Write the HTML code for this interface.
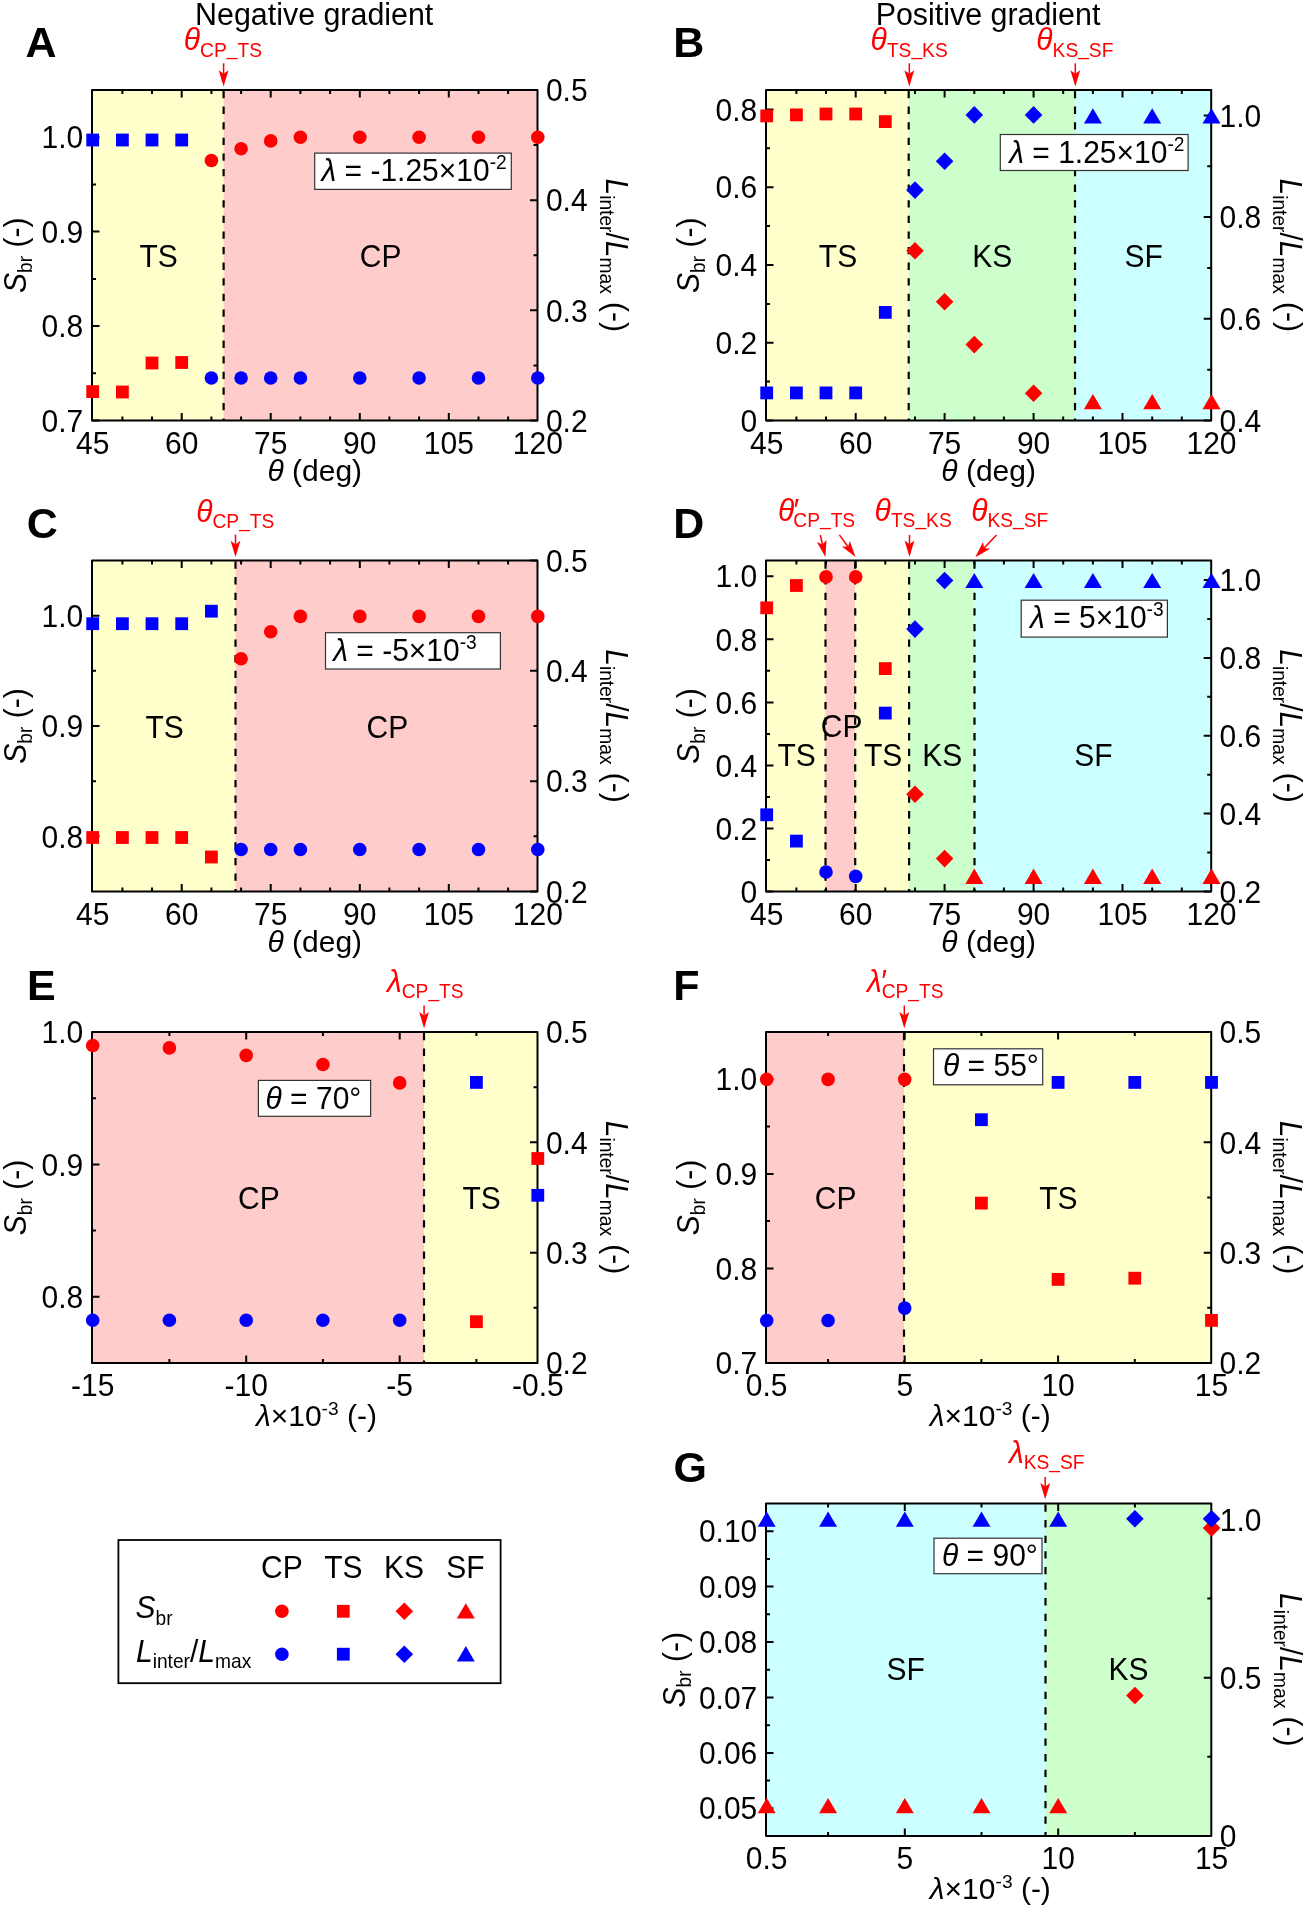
<!DOCTYPE html><html><head><meta charset="utf-8"><style>html,body{margin:0;padding:0;background:#fff;}svg{display:block;will-change:transform;}</style></head><body>
<svg width="1304" height="1909" viewBox="0 0 1304 1909" font-family='"Liberation Sans", sans-serif'>
<rect x="92.0" y="90" width="131.6" height="330.5" fill="#FFFFCC"/>
<rect x="223.6" y="90" width="313.9" height="330.5" fill="#FFCCCC"/>
<line x1="223.6" y1="91" x2="223.6" y2="420.5" stroke="#000" stroke-width="2.2" stroke-dasharray="7.3 8.3"/>
<path d="M181.7 420.5v-7.5M181.7 90v7.5M270.7 420.5v-7.5M270.7 90v7.5M359.8 420.5v-7.5M359.8 90v7.5M448.8 420.5v-7.5M448.8 90v7.5M122.4 420.5v-4M122.4 90v4M152.0 420.5v-4M152.0 90v4M211.4 420.5v-4M211.4 90v4M241.1 420.5v-4M241.1 90v4M300.4 420.5v-4M300.4 90v4M330.1 420.5v-4M330.1 90v4M389.4 420.5v-4M389.4 90v4M419.1 420.5v-4M419.1 90v4M478.5 420.5v-4M478.5 90v4M508.1 420.5v-4M508.1 90v4M92 420.5h7.5M92 326.1h7.5M92 231.6h7.5M92 137.2h7.5M92 373.3h4M92 278.9h4M92 184.4h4M537.5 420.5h-7.5M537.5 310.3h-7.5M537.5 200.2h-7.5M537.5 90.0h-7.5M537.5 365.4h-4M537.5 255.3h-4M537.5 145.1h-4" stroke="#000" stroke-width="2" fill="none"/>
<rect x="92" y="90" width="445.5" height="330.5" fill="none" stroke="#000" stroke-width="2" stroke-linejoin="round"/>
<text transform="translate(92.70,453.60) scale(1,1.04)" font-size="30" text-anchor="middle" fill="#000"><tspan>45</tspan></text>
<text transform="translate(181.72,453.60) scale(1,1.04)" font-size="30" text-anchor="middle" fill="#000"><tspan>60</tspan></text>
<text transform="translate(270.74,453.60) scale(1,1.04)" font-size="30" text-anchor="middle" fill="#000"><tspan>75</tspan></text>
<text transform="translate(359.76,453.60) scale(1,1.04)" font-size="30" text-anchor="middle" fill="#000"><tspan>90</tspan></text>
<text transform="translate(448.78,453.60) scale(1,1.04)" font-size="30" text-anchor="middle" fill="#000"><tspan>105</tspan></text>
<text transform="translate(537.80,453.60) scale(1,1.04)" font-size="30" text-anchor="middle" fill="#000"><tspan>120</tspan></text>
<text transform="translate(83.30,431.70) scale(1,1.04)" font-size="30" text-anchor="end" fill="#000"><tspan>0.7</tspan></text>
<text transform="translate(83.30,337.27) scale(1,1.04)" font-size="30" text-anchor="end" fill="#000"><tspan>0.8</tspan></text>
<text transform="translate(83.30,242.84) scale(1,1.04)" font-size="30" text-anchor="end" fill="#000"><tspan>0.9</tspan></text>
<text transform="translate(83.30,148.41) scale(1,1.04)" font-size="30" text-anchor="end" fill="#000"><tspan>1.0</tspan></text>
<text transform="translate(545.90,431.70) scale(1,1.04)" font-size="30" text-anchor="start" fill="#000"><tspan>0.2</tspan></text>
<text transform="translate(545.90,321.53) scale(1,1.04)" font-size="30" text-anchor="start" fill="#000"><tspan>0.3</tspan></text>
<text transform="translate(545.90,211.37) scale(1,1.04)" font-size="30" text-anchor="start" fill="#000"><tspan>0.4</tspan></text>
<text transform="translate(545.90,101.20) scale(1,1.04)" font-size="30" text-anchor="start" fill="#000"><tspan>0.5</tspan></text>
<text transform="translate(158.60,266.50) scale(1,1.04)" font-size="30" text-anchor="middle" fill="#000"><tspan>TS</tspan></text>
<text transform="translate(380.60,266.50) scale(1,1.04)" font-size="30" text-anchor="middle" fill="#000"><tspan>CP</tspan></text>
<rect x="86.3" y="133.6" width="12.8" height="12.8" fill="#0000FF"/>
<rect x="116.0" y="133.6" width="12.8" height="12.8" fill="#0000FF"/>
<rect x="145.6" y="133.6" width="12.8" height="12.8" fill="#0000FF"/>
<rect x="175.3" y="133.6" width="12.8" height="12.8" fill="#0000FF"/>
<rect x="86.3" y="385.2" width="12.8" height="12.8" fill="#FF0000"/>
<rect x="116.0" y="385.6" width="12.8" height="12.8" fill="#FF0000"/>
<rect x="145.6" y="356.6" width="12.8" height="12.8" fill="#FF0000"/>
<rect x="175.3" y="356.1" width="12.8" height="12.8" fill="#FF0000"/>
<circle cx="211.4" cy="160.5" r="6.80" fill="#FF0000"/>
<circle cx="241.1" cy="148.7" r="6.80" fill="#FF0000"/>
<circle cx="270.7" cy="140.9" r="6.80" fill="#FF0000"/>
<circle cx="300.4" cy="137.2" r="6.80" fill="#FF0000"/>
<circle cx="359.8" cy="137.2" r="6.80" fill="#FF0000"/>
<circle cx="419.1" cy="137.2" r="6.80" fill="#FF0000"/>
<circle cx="478.5" cy="137.2" r="6.80" fill="#FF0000"/>
<circle cx="537.8" cy="137.2" r="6.80" fill="#FF0000"/>
<circle cx="211.4" cy="378.0" r="6.80" fill="#0000FF"/>
<circle cx="241.1" cy="378.0" r="6.80" fill="#0000FF"/>
<circle cx="270.7" cy="378.0" r="6.80" fill="#0000FF"/>
<circle cx="300.4" cy="378.0" r="6.80" fill="#0000FF"/>
<circle cx="359.8" cy="378.0" r="6.80" fill="#0000FF"/>
<circle cx="419.1" cy="378.0" r="6.80" fill="#0000FF"/>
<circle cx="478.5" cy="378.0" r="6.80" fill="#0000FF"/>
<circle cx="537.8" cy="378.0" r="6.80" fill="#0000FF"/>
<text transform="translate(314.75,481.10) scale(1,0.98)" font-size="30" text-anchor="middle" fill="#000"><tspan font-style="italic">θ</tspan><tspan> (deg)</tspan></text>
<text transform="translate(25.50,255.25) rotate(-90) scale(1,1.04)" font-size="30" text-anchor="middle" fill="#000"><tspan font-style="italic">S</tspan><tspan font-size="19.2" dy="6.00">br</tspan><tspan dy="-6.00"> (-)</tspan></text>
<text transform="translate(606.00,255.25) rotate(90) scale(1,1.04)" font-size="30" text-anchor="middle" fill="#000"><tspan font-style="italic">L</tspan><tspan font-size="19.2" dy="6.00">inter</tspan><tspan dy="-6.00">/</tspan><tspan font-style="italic">L</tspan><tspan font-size="19.2" dy="6.00">max</tspan><tspan dy="-6.00"> (-)</tspan></text>
<rect x="314.7" y="153.1" width="196.6" height="36.3" fill="#fff" stroke="#333" stroke-width="1.2"/>
<text transform="translate(321.50,180.70) scale(1,1.04)" font-size="30" text-anchor="start" fill="#000"><tspan font-style="italic">λ</tspan><tspan> = -1.25×10</tspan><tspan font-size="19.2" dy="-11.50">-2</tspan></text>
<line x1="223.6" y1="63.3" x2="223.6" y2="73.8" stroke="#FF0000" stroke-width="1.5"/>
<path d="M223.6 86.5L218.7 70.2L223.6 73.8L228.5 70.2Z" fill="#FF0000"/>
<text transform="translate(183.80,50.30) scale(1,1.04)" font-size="30" text-anchor="start" fill="#FF0000"><tspan font-style="italic">θ</tspan><tspan font-size="19.2" dy="6.00">CP</tspan><tspan font-size="19.2" dy="-1.30">_</tspan><tspan font-size="19.2" dy="1.30">TS</tspan></text>
<text transform="translate(314.20,24.50) scale(1,1.04)" font-size="30.4" text-anchor="middle" fill="#000"><tspan>Negative gradient</tspan></text>
<text transform="translate(25.60,56.80) scale(1,1.01)" font-size="43" text-anchor="start" fill="#000" font-weight="bold"><tspan>A</tspan></text>
<rect x="766.0" y="90" width="142.7" height="330.5" fill="#FFFFCC"/>
<rect x="908.7" y="90" width="166.3" height="330.5" fill="#CCFFCC"/>
<rect x="1075.0" y="90" width="136.2" height="330.5" fill="#CCFFFF"/>
<line x1="908.7" y1="91" x2="908.7" y2="420.5" stroke="#000" stroke-width="2.2" stroke-dasharray="7.3 8.3"/>
<line x1="1075" y1="91" x2="1075" y2="420.5" stroke="#000" stroke-width="2.2" stroke-dasharray="7.3 8.3"/>
<path d="M855.7 420.5v-7.5M855.7 90v7.5M944.6 420.5v-7.5M944.6 90v7.5M1033.6 420.5v-7.5M1033.6 90v7.5M1122.5 420.5v-7.5M1122.5 90v7.5M796.4 420.5v-4M796.4 90v4M826.0 420.5v-4M826.0 90v4M885.3 420.5v-4M885.3 90v4M915.0 420.5v-4M915.0 90v4M974.3 420.5v-4M974.3 90v4M1003.9 420.5v-4M1003.9 90v4M1063.2 420.5v-4M1063.2 90v4M1092.9 420.5v-4M1092.9 90v4M1152.2 420.5v-4M1152.2 90v4M1181.8 420.5v-4M1181.8 90v4M766 420.5h7.5M766 342.7h7.5M766 265.0h7.5M766 187.2h7.5M766 109.4h7.5M766 381.6h4M766 303.9h4M766 226.1h4M766 148.3h4M1211.2 420.5h-7.5M1211.2 318.8h-7.5M1211.2 217.1h-7.5M1211.2 115.4h-7.5M1211.2 369.7h-4M1211.2 268.0h-4M1211.2 166.3h-4" stroke="#000" stroke-width="2" fill="none"/>
<rect x="766" y="90" width="445.20000000000005" height="330.5" fill="none" stroke="#000" stroke-width="2" stroke-linejoin="round"/>
<text transform="translate(766.70,453.60) scale(1,1.04)" font-size="30" text-anchor="middle" fill="#000"><tspan>45</tspan></text>
<text transform="translate(855.66,453.60) scale(1,1.04)" font-size="30" text-anchor="middle" fill="#000"><tspan>60</tspan></text>
<text transform="translate(944.62,453.60) scale(1,1.04)" font-size="30" text-anchor="middle" fill="#000"><tspan>75</tspan></text>
<text transform="translate(1033.58,453.60) scale(1,1.04)" font-size="30" text-anchor="middle" fill="#000"><tspan>90</tspan></text>
<text transform="translate(1122.54,453.60) scale(1,1.04)" font-size="30" text-anchor="middle" fill="#000"><tspan>105</tspan></text>
<text transform="translate(1211.50,453.60) scale(1,1.04)" font-size="30" text-anchor="middle" fill="#000"><tspan>120</tspan></text>
<text transform="translate(757.30,431.70) scale(1,1.04)" font-size="30" text-anchor="end" fill="#000"><tspan>0</tspan></text>
<text transform="translate(757.30,353.94) scale(1,1.04)" font-size="30" text-anchor="end" fill="#000"><tspan>0.2</tspan></text>
<text transform="translate(757.30,276.17) scale(1,1.04)" font-size="30" text-anchor="end" fill="#000"><tspan>0.4</tspan></text>
<text transform="translate(757.30,198.41) scale(1,1.04)" font-size="30" text-anchor="end" fill="#000"><tspan>0.6</tspan></text>
<text transform="translate(757.30,120.64) scale(1,1.04)" font-size="30" text-anchor="end" fill="#000"><tspan>0.8</tspan></text>
<text transform="translate(1219.60,431.70) scale(1,1.04)" font-size="30" text-anchor="start" fill="#000"><tspan>0.4</tspan></text>
<text transform="translate(1219.60,330.01) scale(1,1.04)" font-size="30" text-anchor="start" fill="#000"><tspan>0.6</tspan></text>
<text transform="translate(1219.60,228.32) scale(1,1.04)" font-size="30" text-anchor="start" fill="#000"><tspan>0.8</tspan></text>
<text transform="translate(1219.60,126.62) scale(1,1.04)" font-size="30" text-anchor="start" fill="#000"><tspan>1.0</tspan></text>
<text transform="translate(838.00,266.50) scale(1,1.04)" font-size="30" text-anchor="middle" fill="#000"><tspan>TS</tspan></text>
<text transform="translate(992.20,266.50) scale(1,1.04)" font-size="30" text-anchor="middle" fill="#000"><tspan>KS</tspan></text>
<text transform="translate(1143.70,266.50) scale(1,1.04)" font-size="30" text-anchor="middle" fill="#000"><tspan>SF</tspan></text>
<rect x="760.3" y="109.5" width="12.8" height="12.8" fill="#FF0000"/>
<rect x="790.0" y="108.5" width="12.8" height="12.8" fill="#FF0000"/>
<rect x="819.6" y="107.6" width="12.8" height="12.8" fill="#FF0000"/>
<rect x="849.3" y="107.6" width="12.8" height="12.8" fill="#FF0000"/>
<rect x="878.9" y="115.2" width="12.8" height="12.8" fill="#FF0000"/>
<rect x="760.3" y="386.5" width="12.8" height="12.8" fill="#0000FF"/>
<rect x="790.0" y="386.5" width="12.8" height="12.8" fill="#0000FF"/>
<rect x="819.6" y="386.5" width="12.8" height="12.8" fill="#0000FF"/>
<rect x="849.3" y="386.5" width="12.8" height="12.8" fill="#0000FF"/>
<rect x="878.9" y="306.0" width="12.8" height="12.8" fill="#0000FF"/>
<path d="M915.0 181.3L923.8 190.1L915.0 198.9L906.2 190.1Z" fill="#0000FF"/>
<path d="M944.6 152.5L953.4 161.3L944.6 170.1L935.8 161.3Z" fill="#0000FF"/>
<path d="M974.3 106.1L983.1 114.9L974.3 123.7L965.5 114.9Z" fill="#0000FF"/>
<path d="M1033.6 106.1L1042.4 114.9L1033.6 123.7L1024.8 114.9Z" fill="#0000FF"/>
<path d="M915.0 241.9L923.8 250.7L915.0 259.5L906.2 250.7Z" fill="#FF0000"/>
<path d="M944.6 293.0L953.4 301.8L944.6 310.6L935.8 301.8Z" fill="#FF0000"/>
<path d="M974.3 335.8L983.1 344.6L974.3 353.4L965.5 344.6Z" fill="#FF0000"/>
<path d="M1033.6 384.5L1042.4 393.3L1033.6 402.1L1024.8 393.3Z" fill="#FF0000"/>
<path d="M1092.9 108.2L1101.9 123.5L1083.9 123.5Z" fill="#0000FF"/>
<path d="M1152.2 108.2L1161.2 123.5L1143.2 123.5Z" fill="#0000FF"/>
<path d="M1211.5 108.2L1220.5 123.5L1202.5 123.5Z" fill="#0000FF"/>
<path d="M1092.9 393.9L1101.9 409.2L1083.9 409.2Z" fill="#FF0000"/>
<path d="M1152.2 393.9L1161.2 409.2L1143.2 409.2Z" fill="#FF0000"/>
<path d="M1211.5 393.9L1220.5 409.2L1202.5 409.2Z" fill="#FF0000"/>
<text transform="translate(988.60,481.10) scale(1,0.98)" font-size="30" text-anchor="middle" fill="#000"><tspan font-style="italic">θ</tspan><tspan> (deg)</tspan></text>
<text transform="translate(699.00,255.25) rotate(-90) scale(1,1.04)" font-size="30" text-anchor="middle" fill="#000"><tspan font-style="italic">S</tspan><tspan font-size="19.2" dy="6.00">br</tspan><tspan dy="-6.00"> (-)</tspan></text>
<text transform="translate(1279.70,255.25) rotate(90) scale(1,1.04)" font-size="30" text-anchor="middle" fill="#000"><tspan font-style="italic">L</tspan><tspan font-size="19.2" dy="6.00">inter</tspan><tspan dy="-6.00">/</tspan><tspan font-style="italic">L</tspan><tspan font-size="19.2" dy="6.00">max</tspan><tspan dy="-6.00"> (-)</tspan></text>
<rect x="1000.3" y="134.5" width="187.8" height="36.0" fill="#fff" stroke="#333" stroke-width="1.2"/>
<text transform="translate(1009.20,162.90) scale(1,1.04)" font-size="30" text-anchor="start" fill="#000"><tspan font-style="italic">λ</tspan><tspan> = 1.25×10</tspan><tspan font-size="19.2" dy="-11.50">-2</tspan></text>
<line x1="909.3" y1="63.3" x2="909.3" y2="73.8" stroke="#FF0000" stroke-width="1.5"/>
<path d="M909.3 86.5L904.4 70.2L909.3 73.8L914.2 70.2Z" fill="#FF0000"/>
<line x1="1075.3" y1="63.3" x2="1075.3" y2="73.8" stroke="#FF0000" stroke-width="1.5"/>
<path d="M1075.3 86.5L1070.4 70.2L1075.3 73.8L1080.2 70.2Z" fill="#FF0000"/>
<text transform="translate(870.60,50.30) scale(1,1.04)" font-size="30" text-anchor="start" fill="#FF0000"><tspan font-style="italic">θ</tspan><tspan font-size="19.2" dy="6.00">TS</tspan><tspan font-size="19.2" dy="-1.30">_</tspan><tspan font-size="19.2" dy="1.30">KS</tspan></text>
<text transform="translate(1036.30,50.30) scale(1,1.04)" font-size="30" text-anchor="start" fill="#FF0000"><tspan font-style="italic">θ</tspan><tspan font-size="19.2" dy="6.00">KS</tspan><tspan font-size="19.2" dy="-1.30">_</tspan><tspan font-size="19.2" dy="1.30">SF</tspan></text>
<text transform="translate(988.00,24.50) scale(1,1.04)" font-size="30.4" text-anchor="middle" fill="#000"><tspan>Positive gradient</tspan></text>
<text transform="translate(673.30,56.80) scale(1,1.01)" font-size="43" text-anchor="start" fill="#000" font-weight="bold"><tspan>B</tspan></text>
<rect x="92.0" y="560.5" width="143.5" height="331.0" fill="#FFFFCC"/>
<rect x="235.5" y="560.5" width="302.0" height="331.0" fill="#FFCCCC"/>
<line x1="235.5" y1="561.5" x2="235.5" y2="891.5" stroke="#000" stroke-width="2.2" stroke-dasharray="7.3 8.3"/>
<path d="M181.7 891.5v-7.5M181.7 560.5v7.5M270.7 891.5v-7.5M270.7 560.5v7.5M359.8 891.5v-7.5M359.8 560.5v7.5M448.8 891.5v-7.5M448.8 560.5v7.5M122.4 891.5v-4M122.4 560.5v4M152.0 891.5v-4M152.0 560.5v4M211.4 891.5v-4M211.4 560.5v4M241.1 891.5v-4M241.1 560.5v4M300.4 891.5v-4M300.4 560.5v4M330.1 891.5v-4M330.1 560.5v4M389.4 891.5v-4M389.4 560.5v4M419.1 891.5v-4M419.1 560.5v4M478.5 891.5v-4M478.5 560.5v4M508.1 891.5v-4M508.1 560.5v4M92 836.3h7.5M92 726.0h7.5M92 615.7h7.5M92 781.2h4M92 670.8h4M537.5 891.5h-7.5M537.5 781.2h-7.5M537.5 670.8h-7.5M537.5 560.5h-7.5M537.5 836.3h-4M537.5 726.0h-4M537.5 615.7h-4" stroke="#000" stroke-width="2" fill="none"/>
<rect x="92" y="560.5" width="445.5" height="331.0" fill="none" stroke="#000" stroke-width="2" stroke-linejoin="round"/>
<text transform="translate(92.70,924.60) scale(1,1.04)" font-size="30" text-anchor="middle" fill="#000"><tspan>45</tspan></text>
<text transform="translate(181.72,924.60) scale(1,1.04)" font-size="30" text-anchor="middle" fill="#000"><tspan>60</tspan></text>
<text transform="translate(270.74,924.60) scale(1,1.04)" font-size="30" text-anchor="middle" fill="#000"><tspan>75</tspan></text>
<text transform="translate(359.76,924.60) scale(1,1.04)" font-size="30" text-anchor="middle" fill="#000"><tspan>90</tspan></text>
<text transform="translate(448.78,924.60) scale(1,1.04)" font-size="30" text-anchor="middle" fill="#000"><tspan>105</tspan></text>
<text transform="translate(537.80,924.60) scale(1,1.04)" font-size="30" text-anchor="middle" fill="#000"><tspan>120</tspan></text>
<text transform="translate(83.30,847.53) scale(1,1.04)" font-size="30" text-anchor="end" fill="#000"><tspan>0.8</tspan></text>
<text transform="translate(83.30,737.20) scale(1,1.04)" font-size="30" text-anchor="end" fill="#000"><tspan>0.9</tspan></text>
<text transform="translate(83.30,626.87) scale(1,1.04)" font-size="30" text-anchor="end" fill="#000"><tspan>1.0</tspan></text>
<text transform="translate(545.90,902.70) scale(1,1.04)" font-size="30" text-anchor="start" fill="#000"><tspan>0.2</tspan></text>
<text transform="translate(545.90,792.37) scale(1,1.04)" font-size="30" text-anchor="start" fill="#000"><tspan>0.3</tspan></text>
<text transform="translate(545.90,682.03) scale(1,1.04)" font-size="30" text-anchor="start" fill="#000"><tspan>0.4</tspan></text>
<text transform="translate(545.90,571.70) scale(1,1.04)" font-size="30" text-anchor="start" fill="#000"><tspan>0.5</tspan></text>
<text transform="translate(164.60,737.90) scale(1,1.04)" font-size="30" text-anchor="middle" fill="#000"><tspan>TS</tspan></text>
<text transform="translate(387.30,737.90) scale(1,1.04)" font-size="30" text-anchor="middle" fill="#000"><tspan>CP</tspan></text>
<rect x="86.3" y="617.3" width="12.8" height="12.8" fill="#0000FF"/>
<rect x="116.0" y="617.3" width="12.8" height="12.8" fill="#0000FF"/>
<rect x="145.6" y="617.3" width="12.8" height="12.8" fill="#0000FF"/>
<rect x="175.3" y="617.3" width="12.8" height="12.8" fill="#0000FF"/>
<rect x="205.0" y="604.8" width="12.8" height="12.8" fill="#0000FF"/>
<rect x="86.3" y="831.1" width="12.8" height="12.8" fill="#FF0000"/>
<rect x="116.0" y="831.1" width="12.8" height="12.8" fill="#FF0000"/>
<rect x="145.6" y="831.1" width="12.8" height="12.8" fill="#FF0000"/>
<rect x="175.3" y="831.1" width="12.8" height="12.8" fill="#FF0000"/>
<rect x="205.0" y="850.6" width="12.8" height="12.8" fill="#FF0000"/>
<circle cx="241.1" cy="658.8" r="6.80" fill="#FF0000"/>
<circle cx="270.7" cy="631.7" r="6.80" fill="#FF0000"/>
<circle cx="300.4" cy="616.4" r="6.80" fill="#FF0000"/>
<circle cx="359.8" cy="616.4" r="6.80" fill="#FF0000"/>
<circle cx="419.1" cy="616.4" r="6.80" fill="#FF0000"/>
<circle cx="478.5" cy="616.4" r="6.80" fill="#FF0000"/>
<circle cx="537.8" cy="616.4" r="6.80" fill="#FF0000"/>
<circle cx="241.1" cy="849.5" r="6.80" fill="#0000FF"/>
<circle cx="270.7" cy="849.5" r="6.80" fill="#0000FF"/>
<circle cx="300.4" cy="849.5" r="6.80" fill="#0000FF"/>
<circle cx="359.8" cy="849.5" r="6.80" fill="#0000FF"/>
<circle cx="419.1" cy="849.5" r="6.80" fill="#0000FF"/>
<circle cx="478.5" cy="849.5" r="6.80" fill="#0000FF"/>
<circle cx="537.8" cy="849.5" r="6.80" fill="#0000FF"/>
<text transform="translate(314.75,952.10) scale(1,0.98)" font-size="30" text-anchor="middle" fill="#000"><tspan font-style="italic">θ</tspan><tspan> (deg)</tspan></text>
<text transform="translate(25.50,726.00) rotate(-90) scale(1,1.04)" font-size="30" text-anchor="middle" fill="#000"><tspan font-style="italic">S</tspan><tspan font-size="19.2" dy="6.00">br</tspan><tspan dy="-6.00"> (-)</tspan></text>
<text transform="translate(606.00,726.00) rotate(90) scale(1,1.04)" font-size="30" text-anchor="middle" fill="#000"><tspan font-style="italic">L</tspan><tspan font-size="19.2" dy="6.00">inter</tspan><tspan dy="-6.00">/</tspan><tspan font-style="italic">L</tspan><tspan font-size="19.2" dy="6.00">max</tspan><tspan dy="-6.00"> (-)</tspan></text>
<rect x="325.5" y="632.7" width="174.9" height="36.3" fill="#fff" stroke="#333" stroke-width="1.2"/>
<text transform="translate(333.20,661.20) scale(1,1.04)" font-size="30" text-anchor="start" fill="#000"><tspan font-style="italic">λ</tspan><tspan> = -5×10</tspan><tspan font-size="19.2" dy="-11.50">-3</tspan></text>
<line x1="235.5" y1="534.6" x2="235.5" y2="544.4" stroke="#FF0000" stroke-width="1.5"/>
<path d="M235.5 557.1L230.6 540.8L235.5 544.4L240.4 540.8Z" fill="#FF0000"/>
<text transform="translate(196.20,522.00) scale(1,1.04)" font-size="30" text-anchor="start" fill="#FF0000"><tspan font-style="italic">θ</tspan><tspan font-size="19.2" dy="6.00">CP</tspan><tspan font-size="19.2" dy="-1.30">_</tspan><tspan font-size="19.2" dy="1.30">TS</tspan></text>
<text transform="translate(26.80,537.80) scale(1,1.01)" font-size="43" text-anchor="start" fill="#000" font-weight="bold"><tspan>C</tspan></text>
<rect x="766.0" y="560.5" width="59.5" height="331.0" fill="#FFFFCC"/>
<rect x="825.5" y="560.5" width="29.7" height="331.0" fill="#FFCCCC"/>
<rect x="855.2" y="560.5" width="53.9" height="331.0" fill="#FFFFCC"/>
<rect x="909.1" y="560.5" width="65.4" height="331.0" fill="#CCFFCC"/>
<rect x="974.5" y="560.5" width="236.7" height="331.0" fill="#CCFFFF"/>
<line x1="825.5" y1="561.5" x2="825.5" y2="891.5" stroke="#000" stroke-width="2.2" stroke-dasharray="7.3 8.3"/>
<line x1="855.2" y1="561.5" x2="855.2" y2="891.5" stroke="#000" stroke-width="2.2" stroke-dasharray="7.3 8.3"/>
<line x1="909.1" y1="561.5" x2="909.1" y2="891.5" stroke="#000" stroke-width="2.2" stroke-dasharray="7.3 8.3"/>
<line x1="974.5" y1="561.5" x2="974.5" y2="891.5" stroke="#000" stroke-width="2.2" stroke-dasharray="7.3 8.3"/>
<path d="M855.7 891.5v-7.5M855.7 560.5v7.5M944.6 891.5v-7.5M944.6 560.5v7.5M1033.6 891.5v-7.5M1033.6 560.5v7.5M1122.5 891.5v-7.5M1122.5 560.5v7.5M796.4 891.5v-4M796.4 560.5v4M826.0 891.5v-4M826.0 560.5v4M885.3 891.5v-4M885.3 560.5v4M915.0 891.5v-4M915.0 560.5v4M974.3 891.5v-4M974.3 560.5v4M1003.9 891.5v-4M1003.9 560.5v4M1063.2 891.5v-4M1063.2 560.5v4M1092.9 891.5v-4M1092.9 560.5v4M1152.2 891.5v-4M1152.2 560.5v4M1181.8 891.5v-4M1181.8 560.5v4M766 891.5h7.5M766 828.5h7.5M766 765.4h7.5M766 702.4h7.5M766 639.3h7.5M766 576.3h7.5M766 860.0h4M766 796.9h4M766 733.9h4M766 670.8h4M766 607.8h4M1211.2 891.5h-7.5M1211.2 813.6h-7.5M1211.2 735.7h-7.5M1211.2 657.9h-7.5M1211.2 580.0h-7.5M1211.2 852.6h-4M1211.2 774.7h-4M1211.2 696.8h-4M1211.2 618.9h-4" stroke="#000" stroke-width="2" fill="none"/>
<rect x="766" y="560.5" width="445.20000000000005" height="331.0" fill="none" stroke="#000" stroke-width="2" stroke-linejoin="round"/>
<text transform="translate(766.70,924.60) scale(1,1.04)" font-size="30" text-anchor="middle" fill="#000"><tspan>45</tspan></text>
<text transform="translate(855.66,924.60) scale(1,1.04)" font-size="30" text-anchor="middle" fill="#000"><tspan>60</tspan></text>
<text transform="translate(944.62,924.60) scale(1,1.04)" font-size="30" text-anchor="middle" fill="#000"><tspan>75</tspan></text>
<text transform="translate(1033.58,924.60) scale(1,1.04)" font-size="30" text-anchor="middle" fill="#000"><tspan>90</tspan></text>
<text transform="translate(1122.54,924.60) scale(1,1.04)" font-size="30" text-anchor="middle" fill="#000"><tspan>105</tspan></text>
<text transform="translate(1211.50,924.60) scale(1,1.04)" font-size="30" text-anchor="middle" fill="#000"><tspan>120</tspan></text>
<text transform="translate(757.30,902.70) scale(1,1.04)" font-size="30" text-anchor="end" fill="#000"><tspan>0</tspan></text>
<text transform="translate(757.30,839.65) scale(1,1.04)" font-size="30" text-anchor="end" fill="#000"><tspan>0.2</tspan></text>
<text transform="translate(757.30,776.60) scale(1,1.04)" font-size="30" text-anchor="end" fill="#000"><tspan>0.4</tspan></text>
<text transform="translate(757.30,713.56) scale(1,1.04)" font-size="30" text-anchor="end" fill="#000"><tspan>0.6</tspan></text>
<text transform="translate(757.30,650.51) scale(1,1.04)" font-size="30" text-anchor="end" fill="#000"><tspan>0.8</tspan></text>
<text transform="translate(757.30,587.46) scale(1,1.04)" font-size="30" text-anchor="end" fill="#000"><tspan>1.0</tspan></text>
<text transform="translate(1219.60,902.70) scale(1,1.04)" font-size="30" text-anchor="start" fill="#000"><tspan>0.2</tspan></text>
<text transform="translate(1219.60,824.82) scale(1,1.04)" font-size="30" text-anchor="start" fill="#000"><tspan>0.4</tspan></text>
<text transform="translate(1219.60,746.94) scale(1,1.04)" font-size="30" text-anchor="start" fill="#000"><tspan>0.6</tspan></text>
<text transform="translate(1219.60,669.05) scale(1,1.04)" font-size="30" text-anchor="start" fill="#000"><tspan>0.8</tspan></text>
<text transform="translate(1219.60,591.17) scale(1,1.04)" font-size="30" text-anchor="start" fill="#000"><tspan>1.0</tspan></text>
<text transform="translate(796.60,766.40) scale(1,1.04)" font-size="30" text-anchor="middle" fill="#000"><tspan>TS</tspan></text>
<text transform="translate(841.60,736.50) scale(1,1.04)" font-size="30" text-anchor="middle" fill="#000"><tspan>CP</tspan></text>
<text transform="translate(883.10,766.40) scale(1,1.04)" font-size="30" text-anchor="middle" fill="#000"><tspan>TS</tspan></text>
<text transform="translate(942.20,766.40) scale(1,1.04)" font-size="30" text-anchor="middle" fill="#000"><tspan>KS</tspan></text>
<text transform="translate(1093.50,766.40) scale(1,1.04)" font-size="30" text-anchor="middle" fill="#000"><tspan>SF</tspan></text>
<rect x="760.3" y="601.4" width="12.8" height="12.8" fill="#FF0000"/>
<rect x="790.0" y="579.1" width="12.8" height="12.8" fill="#FF0000"/>
<rect x="878.9" y="662.2" width="12.8" height="12.8" fill="#FF0000"/>
<circle cx="826.0" cy="576.9" r="6.80" fill="#FF0000"/>
<circle cx="855.7" cy="576.9" r="6.80" fill="#FF0000"/>
<rect x="760.3" y="808.4" width="12.8" height="12.8" fill="#0000FF"/>
<rect x="790.0" y="834.7" width="12.8" height="12.8" fill="#0000FF"/>
<rect x="878.9" y="706.7" width="12.8" height="12.8" fill="#0000FF"/>
<circle cx="826.0" cy="872.0" r="6.80" fill="#0000FF"/>
<circle cx="855.7" cy="876.4" r="6.80" fill="#0000FF"/>
<path d="M915.0 620.3L923.8 629.1L915.0 637.9L906.2 629.1Z" fill="#0000FF"/>
<path d="M944.6 571.7L953.4 580.5L944.6 589.3L935.8 580.5Z" fill="#0000FF"/>
<path d="M915.0 785.4L923.8 794.2L915.0 803.0L906.2 794.2Z" fill="#FF0000"/>
<path d="M944.6 849.8L953.4 858.6L944.6 867.4L935.8 858.6Z" fill="#FF0000"/>
<path d="M974.3 572.9L983.3 587.9L965.3 587.9Z" fill="#0000FF"/>
<path d="M1033.6 572.9L1042.6 587.9L1024.6 587.9Z" fill="#0000FF"/>
<path d="M1092.9 572.9L1101.9 587.9L1083.9 587.9Z" fill="#0000FF"/>
<path d="M1152.2 572.9L1161.2 587.9L1143.2 587.9Z" fill="#0000FF"/>
<path d="M1211.5 572.9L1220.5 587.9L1202.5 587.9Z" fill="#0000FF"/>
<path d="M974.3 868.6L983.3 884.0L965.3 884.0Z" fill="#FF0000"/>
<path d="M1033.6 868.6L1042.6 884.0L1024.6 884.0Z" fill="#FF0000"/>
<path d="M1092.9 868.6L1101.9 884.0L1083.9 884.0Z" fill="#FF0000"/>
<path d="M1152.2 868.6L1161.2 884.0L1143.2 884.0Z" fill="#FF0000"/>
<path d="M1211.5 868.6L1220.5 884.0L1202.5 884.0Z" fill="#FF0000"/>
<text transform="translate(988.60,952.10) scale(1,0.98)" font-size="30" text-anchor="middle" fill="#000"><tspan font-style="italic">θ</tspan><tspan> (deg)</tspan></text>
<text transform="translate(699.00,726.00) rotate(-90) scale(1,1.04)" font-size="30" text-anchor="middle" fill="#000"><tspan font-style="italic">S</tspan><tspan font-size="19.2" dy="6.00">br</tspan><tspan dy="-6.00"> (-)</tspan></text>
<text transform="translate(1279.70,726.00) rotate(90) scale(1,1.04)" font-size="30" text-anchor="middle" fill="#000"><tspan font-style="italic">L</tspan><tspan font-size="19.2" dy="6.00">inter</tspan><tspan dy="-6.00">/</tspan><tspan font-style="italic">L</tspan><tspan font-size="19.2" dy="6.00">max</tspan><tspan dy="-6.00"> (-)</tspan></text>
<rect x="1021.2" y="600.2" width="146.2" height="36.9" fill="#fff" stroke="#333" stroke-width="1.2"/>
<text transform="translate(1030.10,627.70) scale(1,1.04)" font-size="30" text-anchor="start" fill="#000"><tspan font-style="italic">λ</tspan><tspan> = 5×10</tspan><tspan font-size="19.2" dy="-11.50">-3</tspan></text>
<line x1="820.3" y1="534.9" x2="822.5" y2="544.5" stroke="#FF0000" stroke-width="1.5"/>
<path d="M825.4 556.9L816.9 542.1L822.5 544.5L826.5 539.9Z" fill="#FF0000"/>
<line x1="839.4" y1="534.9" x2="848.0" y2="546.7" stroke="#FF0000" stroke-width="1.5"/>
<path d="M855.5 556.9L841.9 546.6L848.0 546.7L849.8 540.9Z" fill="#FF0000"/>
<line x1="909.5" y1="534.9" x2="909.5" y2="544.2" stroke="#FF0000" stroke-width="1.5"/>
<path d="M909.5 556.9L904.6 540.6L909.5 544.2L914.4 540.6Z" fill="#FF0000"/>
<line x1="996.5" y1="534.9" x2="984.1" y2="548.0" stroke="#FF0000" stroke-width="1.5"/>
<path d="M975.3 557.2L983.0 542.0L984.1 548.0L990.1 548.8Z" fill="#FF0000"/>
<text transform="translate(778.00,520.50) scale(1,1.04)" font-size="30" text-anchor="start" fill="#FF0000"><tspan font-style="italic">θ</tspan></text>
<text transform="translate(792.30,520.50) scale(1,1.04)" font-size="30" text-anchor="start" fill="#FF0000"><tspan font-style="italic">′</tspan></text>
<text transform="translate(793.30,520.50) scale(1,1.04)" font-size="30" text-anchor="start" fill="#FF0000"><tspan font-size="19.2" dy="6.00">CP</tspan><tspan font-size="19.2" dy="-1.30">_</tspan><tspan font-size="19.2" dy="1.30">TS</tspan></text>
<text transform="translate(874.60,520.50) scale(1,1.04)" font-size="30" text-anchor="start" fill="#FF0000"><tspan font-style="italic">θ</tspan><tspan font-size="19.2" dy="6.00">TS</tspan><tspan font-size="19.2" dy="-1.30">_</tspan><tspan font-size="19.2" dy="1.30">KS</tspan></text>
<text transform="translate(971.20,520.50) scale(1,1.04)" font-size="30" text-anchor="start" fill="#FF0000"><tspan font-style="italic">θ</tspan><tspan font-size="19.2" dy="6.00">KS</tspan><tspan font-size="19.2" dy="-1.30">_</tspan><tspan font-size="19.2" dy="1.30">SF</tspan></text>
<text transform="translate(673.30,537.80) scale(1,1.01)" font-size="43" text-anchor="start" fill="#000" font-weight="bold"><tspan>D</tspan></text>
<rect x="92.0" y="1032" width="332.0" height="331" fill="#FFCCCC"/>
<rect x="424.0" y="1032" width="113.5" height="331" fill="#FFFFCC"/>
<line x1="424" y1="1033" x2="424" y2="1363" stroke="#000" stroke-width="2.2" stroke-dasharray="7.3 8.3"/>
<path d="M246.2 1363v-7.5M246.2 1032v7.5M399.7 1363v-7.5M399.7 1032v7.5M169.4 1363v-4M169.4 1032v4M322.9 1363v-4M322.9 1032v4M476.4 1363v-4M476.4 1032v4M92 1296.8h7.5M92 1164.4h7.5M92 1032.0h7.5M92 1230.6h4M92 1098.2h4M537.5 1363.0h-7.5M537.5 1252.7h-7.5M537.5 1142.3h-7.5M537.5 1032.0h-7.5M537.5 1307.8h-4M537.5 1197.5h-4M537.5 1087.2h-4" stroke="#000" stroke-width="2" fill="none"/>
<rect x="92" y="1032" width="445.5" height="331" fill="none" stroke="#000" stroke-width="2" stroke-linejoin="round"/>
<text transform="translate(92.70,1396.10) scale(1,1.04)" font-size="30" text-anchor="middle" fill="#000"><tspan>-15</tspan></text>
<text transform="translate(246.18,1396.10) scale(1,1.04)" font-size="30" text-anchor="middle" fill="#000"><tspan>-10</tspan></text>
<text transform="translate(399.67,1396.10) scale(1,1.04)" font-size="30" text-anchor="middle" fill="#000"><tspan>-5</tspan></text>
<text transform="translate(537.80,1396.10) scale(1,1.04)" font-size="30" text-anchor="middle" fill="#000"><tspan>-0.5</tspan></text>
<text transform="translate(83.30,1308.00) scale(1,1.04)" font-size="30" text-anchor="end" fill="#000"><tspan>0.8</tspan></text>
<text transform="translate(83.30,1175.60) scale(1,1.04)" font-size="30" text-anchor="end" fill="#000"><tspan>0.9</tspan></text>
<text transform="translate(83.30,1043.20) scale(1,1.04)" font-size="30" text-anchor="end" fill="#000"><tspan>1.0</tspan></text>
<text transform="translate(545.90,1374.20) scale(1,1.04)" font-size="30" text-anchor="start" fill="#000"><tspan>0.2</tspan></text>
<text transform="translate(545.90,1263.87) scale(1,1.04)" font-size="30" text-anchor="start" fill="#000"><tspan>0.3</tspan></text>
<text transform="translate(545.90,1153.53) scale(1,1.04)" font-size="30" text-anchor="start" fill="#000"><tspan>0.4</tspan></text>
<text transform="translate(545.90,1043.20) scale(1,1.04)" font-size="30" text-anchor="start" fill="#000"><tspan>0.5</tspan></text>
<text transform="translate(258.80,1208.50) scale(1,1.04)" font-size="30" text-anchor="middle" fill="#000"><tspan>CP</tspan></text>
<text transform="translate(481.70,1208.50) scale(1,1.04)" font-size="30" text-anchor="middle" fill="#000"><tspan>TS</tspan></text>
<circle cx="92.7" cy="1045.5" r="6.80" fill="#FF0000"/>
<circle cx="169.4" cy="1047.9" r="6.80" fill="#FF0000"/>
<circle cx="246.2" cy="1055.4" r="6.80" fill="#FF0000"/>
<circle cx="322.9" cy="1064.5" r="6.80" fill="#FF0000"/>
<circle cx="399.7" cy="1082.9" r="6.80" fill="#FF0000"/>
<circle cx="92.7" cy="1320.3" r="6.80" fill="#0000FF"/>
<circle cx="169.4" cy="1320.3" r="6.80" fill="#0000FF"/>
<circle cx="246.2" cy="1320.3" r="6.80" fill="#0000FF"/>
<circle cx="322.9" cy="1320.3" r="6.80" fill="#0000FF"/>
<circle cx="399.7" cy="1320.3" r="6.80" fill="#0000FF"/>
<rect x="470.0" y="1076.0" width="12.8" height="12.8" fill="#0000FF"/>
<rect x="470.0" y="1315.3" width="12.8" height="12.8" fill="#FF0000"/>
<rect x="531.4" y="1152.1" width="12.8" height="12.8" fill="#FF0000"/>
<rect x="531.4" y="1188.9" width="12.8" height="12.8" fill="#0000FF"/>
<text transform="translate(316.45,1426.00)" font-size="30" text-anchor="middle" fill="#000"><tspan font-style="italic">λ</tspan><tspan>×10</tspan><tspan font-size="19.2" dy="-11.50">-3</tspan><tspan dy="11.50"> (-)</tspan></text>
<text transform="translate(25.50,1197.50) rotate(-90) scale(1,1.04)" font-size="30" text-anchor="middle" fill="#000"><tspan font-style="italic">S</tspan><tspan font-size="19.2" dy="6.00">br</tspan><tspan dy="-6.00"> (-)</tspan></text>
<text transform="translate(606.00,1197.50) rotate(90) scale(1,1.04)" font-size="30" text-anchor="middle" fill="#000"><tspan font-style="italic">L</tspan><tspan font-size="19.2" dy="6.00">inter</tspan><tspan dy="-6.00">/</tspan><tspan font-style="italic">L</tspan><tspan font-size="19.2" dy="6.00">max</tspan><tspan dy="-6.00"> (-)</tspan></text>
<rect x="258.4" y="1080.4" width="112.2" height="35.9" fill="#fff" stroke="#333" stroke-width="1.2"/>
<text transform="translate(265.50,1109.40) scale(1,1.04)" font-size="30" text-anchor="start" fill="#000"><tspan font-style="italic">θ</tspan><tspan> = 70°</tspan></text>
<line x1="424.1" y1="1005.5" x2="424.1" y2="1015.6" stroke="#FF0000" stroke-width="1.5"/>
<path d="M424.1 1028.3L419.2 1012.0L424.1 1015.6L429.0 1012.0Z" fill="#FF0000"/>
<text transform="translate(387.00,992.00) scale(1,1.04)" font-size="30" text-anchor="start" fill="#FF0000"><tspan font-style="italic">λ</tspan><tspan font-size="19.2" dy="6.00">CP</tspan><tspan font-size="19.2" dy="-1.30">_</tspan><tspan font-size="19.2" dy="1.30">TS</tspan></text>
<text transform="translate(26.90,999.70) scale(1,1.01)" font-size="43" text-anchor="start" fill="#000" font-weight="bold"><tspan>E</tspan></text>
<rect x="766.0" y="1032" width="138.0" height="331" fill="#FFCCCC"/>
<rect x="904.0" y="1032" width="307.2" height="331" fill="#FFFFCC"/>
<line x1="904" y1="1033" x2="904" y2="1363" stroke="#000" stroke-width="2.2" stroke-dasharray="7.3 8.3"/>
<path d="M904.7 1363v-7.5M904.7 1032v7.5M1058.1 1363v-7.5M1058.1 1032v7.5M828.1 1363v-4M828.1 1032v4M981.4 1363v-4M981.4 1032v4M1134.8 1363v-4M1134.8 1032v4M766 1363.0h7.5M766 1268.4h7.5M766 1173.9h7.5M766 1079.3h7.5M766 1315.7h4M766 1221.1h4M766 1126.6h4M1211.2 1363.0h-7.5M1211.2 1252.7h-7.5M1211.2 1142.3h-7.5M1211.2 1032.0h-7.5M1211.2 1307.8h-4M1211.2 1197.5h-4M1211.2 1087.2h-4" stroke="#000" stroke-width="2" fill="none"/>
<rect x="766" y="1032" width="445.20000000000005" height="331" fill="none" stroke="#000" stroke-width="2" stroke-linejoin="round"/>
<text transform="translate(766.70,1396.10) scale(1,1.04)" font-size="30" text-anchor="middle" fill="#000"><tspan>0.5</tspan></text>
<text transform="translate(904.74,1396.10) scale(1,1.04)" font-size="30" text-anchor="middle" fill="#000"><tspan>5</tspan></text>
<text transform="translate(1058.12,1396.10) scale(1,1.04)" font-size="30" text-anchor="middle" fill="#000"><tspan>10</tspan></text>
<text transform="translate(1211.50,1396.10) scale(1,1.04)" font-size="30" text-anchor="middle" fill="#000"><tspan>15</tspan></text>
<text transform="translate(757.30,1374.20) scale(1,1.04)" font-size="30" text-anchor="end" fill="#000"><tspan>0.7</tspan></text>
<text transform="translate(757.30,1279.63) scale(1,1.04)" font-size="30" text-anchor="end" fill="#000"><tspan>0.8</tspan></text>
<text transform="translate(757.30,1185.06) scale(1,1.04)" font-size="30" text-anchor="end" fill="#000"><tspan>0.9</tspan></text>
<text transform="translate(757.30,1090.49) scale(1,1.04)" font-size="30" text-anchor="end" fill="#000"><tspan>1.0</tspan></text>
<text transform="translate(1219.60,1374.20) scale(1,1.04)" font-size="30" text-anchor="start" fill="#000"><tspan>0.2</tspan></text>
<text transform="translate(1219.60,1263.87) scale(1,1.04)" font-size="30" text-anchor="start" fill="#000"><tspan>0.3</tspan></text>
<text transform="translate(1219.60,1153.53) scale(1,1.04)" font-size="30" text-anchor="start" fill="#000"><tspan>0.4</tspan></text>
<text transform="translate(1219.60,1043.20) scale(1,1.04)" font-size="30" text-anchor="start" fill="#000"><tspan>0.5</tspan></text>
<text transform="translate(835.60,1208.50) scale(1,1.04)" font-size="30" text-anchor="middle" fill="#000"><tspan>CP</tspan></text>
<text transform="translate(1058.40,1208.50) scale(1,1.04)" font-size="30" text-anchor="middle" fill="#000"><tspan>TS</tspan></text>
<circle cx="766.7" cy="1079.4" r="6.80" fill="#FF0000"/>
<circle cx="828.1" cy="1079.4" r="6.80" fill="#FF0000"/>
<circle cx="904.7" cy="1079.4" r="6.80" fill="#FF0000"/>
<circle cx="766.7" cy="1320.5" r="6.80" fill="#0000FF"/>
<circle cx="828.1" cy="1320.5" r="6.80" fill="#0000FF"/>
<circle cx="904.7" cy="1308.1" r="6.80" fill="#0000FF"/>
<rect x="975.0" y="1113.3" width="12.8" height="12.8" fill="#0000FF"/>
<rect x="1051.7" y="1076.0" width="12.8" height="12.8" fill="#0000FF"/>
<rect x="1128.4" y="1076.0" width="12.8" height="12.8" fill="#0000FF"/>
<rect x="1205.1" y="1076.0" width="12.8" height="12.8" fill="#0000FF"/>
<rect x="975.0" y="1196.7" width="12.8" height="12.8" fill="#FF0000"/>
<rect x="1051.7" y="1273.0" width="12.8" height="12.8" fill="#FF0000"/>
<rect x="1128.4" y="1271.8" width="12.8" height="12.8" fill="#FF0000"/>
<rect x="1205.1" y="1314.0" width="12.8" height="12.8" fill="#FF0000"/>
<text transform="translate(990.30,1426.00)" font-size="30" text-anchor="middle" fill="#000"><tspan font-style="italic">λ</tspan><tspan>×10</tspan><tspan font-size="19.2" dy="-11.50">-3</tspan><tspan dy="11.50"> (-)</tspan></text>
<text transform="translate(699.00,1197.50) rotate(-90) scale(1,1.04)" font-size="30" text-anchor="middle" fill="#000"><tspan font-style="italic">S</tspan><tspan font-size="19.2" dy="6.00">br</tspan><tspan dy="-6.00"> (-)</tspan></text>
<text transform="translate(1279.70,1197.50) rotate(90) scale(1,1.04)" font-size="30" text-anchor="middle" fill="#000"><tspan font-style="italic">L</tspan><tspan font-size="19.2" dy="6.00">inter</tspan><tspan dy="-6.00">/</tspan><tspan font-style="italic">L</tspan><tspan font-size="19.2" dy="6.00">max</tspan><tspan dy="-6.00"> (-)</tspan></text>
<rect x="933.5" y="1048.8" width="109.2" height="36.0" fill="#fff" stroke="#333" stroke-width="1.2"/>
<text transform="translate(943.00,1076.30) scale(1,1.04)" font-size="30" text-anchor="start" fill="#000"><tspan font-style="italic">θ</tspan><tspan> = 55°</tspan></text>
<line x1="904.3" y1="1005.5" x2="904.3" y2="1015.6" stroke="#FF0000" stroke-width="1.5"/>
<path d="M904.3 1028.3L899.4 1012.0L904.3 1015.6L909.2 1012.0Z" fill="#FF0000"/>
<text transform="translate(867.00,992.00) scale(1,1.04)" font-size="30" text-anchor="start" fill="#FF0000"><tspan font-style="italic">λ</tspan></text>
<text transform="translate(880.00,992.00) scale(1,1.04)" font-size="30" text-anchor="start" fill="#FF0000"><tspan font-style="italic">′</tspan></text>
<text transform="translate(881.70,992.00) scale(1,1.04)" font-size="30" text-anchor="start" fill="#FF0000"><tspan font-size="19.2" dy="6.00">CP</tspan><tspan font-size="19.2" dy="-1.30">_</tspan><tspan font-size="19.2" dy="1.30">TS</tspan></text>
<text transform="translate(673.30,999.70) scale(1,1.01)" font-size="43" text-anchor="start" fill="#000" font-weight="bold"><tspan>F</tspan></text>
<rect x="766.0" y="1503.5" width="279.5" height="332.5" fill="#CCFFFF"/>
<rect x="1045.5" y="1503.5" width="165.8" height="332.5" fill="#CCFFCC"/>
<line x1="1045.5" y1="1504.5" x2="1045.5" y2="1836" stroke="#000" stroke-width="2.2" stroke-dasharray="7.3 8.3"/>
<path d="M904.8 1836v-7.5M904.8 1503.5v7.5M1058.2 1836v-7.5M1058.2 1503.5v7.5M828.1 1836v-4M828.1 1503.5v4M981.5 1836v-4M981.5 1503.5v4M1134.9 1836v-4M1134.9 1503.5v4M766 1808.3h7.5M766 1752.9h7.5M766 1697.5h7.5M766 1642.0h7.5M766 1586.6h7.5M766 1531.2h7.5M766 1780.6h4M766 1725.2h4M766 1669.8h4M766 1614.3h4M766 1558.9h4M1211.3 1836.0h-7.5M1211.3 1677.7h-7.5M1211.3 1519.3h-7.5M1211.3 1756.8h-4M1211.3 1598.5h-4" stroke="#000" stroke-width="2" fill="none"/>
<rect x="766" y="1503.5" width="445.29999999999995" height="332.5" fill="none" stroke="#000" stroke-width="2" stroke-linejoin="round"/>
<text transform="translate(766.70,1869.10) scale(1,1.04)" font-size="30" text-anchor="middle" fill="#000"><tspan>0.5</tspan></text>
<text transform="translate(904.77,1869.10) scale(1,1.04)" font-size="30" text-anchor="middle" fill="#000"><tspan>5</tspan></text>
<text transform="translate(1058.19,1869.10) scale(1,1.04)" font-size="30" text-anchor="middle" fill="#000"><tspan>10</tspan></text>
<text transform="translate(1211.60,1869.10) scale(1,1.04)" font-size="30" text-anchor="middle" fill="#000"><tspan>15</tspan></text>
<text transform="translate(757.30,1819.49) scale(1,1.04)" font-size="30" text-anchor="end" fill="#000"><tspan>0.05</tspan></text>
<text transform="translate(757.30,1764.08) scale(1,1.04)" font-size="30" text-anchor="end" fill="#000"><tspan>0.06</tspan></text>
<text transform="translate(757.30,1708.66) scale(1,1.04)" font-size="30" text-anchor="end" fill="#000"><tspan>0.07</tspan></text>
<text transform="translate(757.30,1653.24) scale(1,1.04)" font-size="30" text-anchor="end" fill="#000"><tspan>0.08</tspan></text>
<text transform="translate(757.30,1597.83) scale(1,1.04)" font-size="30" text-anchor="end" fill="#000"><tspan>0.09</tspan></text>
<text transform="translate(757.30,1542.41) scale(1,1.04)" font-size="30" text-anchor="end" fill="#000"><tspan>0.10</tspan></text>
<text transform="translate(1219.70,1847.20) scale(1,1.04)" font-size="30" text-anchor="start" fill="#000"><tspan>0</tspan></text>
<text transform="translate(1219.70,1688.87) scale(1,1.04)" font-size="30" text-anchor="start" fill="#000"><tspan>0.5</tspan></text>
<text transform="translate(1219.70,1530.53) scale(1,1.04)" font-size="30" text-anchor="start" fill="#000"><tspan>1.0</tspan></text>
<text transform="translate(905.70,1680.10) scale(1,1.04)" font-size="30" text-anchor="middle" fill="#000"><tspan>SF</tspan></text>
<text transform="translate(1128.60,1680.10) scale(1,1.04)" font-size="30" text-anchor="middle" fill="#000"><tspan>KS</tspan></text>
<path d="M766.7 1511.6L775.7 1526.8L757.7 1526.8Z" fill="#0000FF"/>
<path d="M828.1 1511.6L837.1 1526.8L819.1 1526.8Z" fill="#0000FF"/>
<path d="M904.8 1511.6L913.8 1526.8L895.8 1526.8Z" fill="#0000FF"/>
<path d="M981.5 1511.6L990.5 1526.8L972.5 1526.8Z" fill="#0000FF"/>
<path d="M1058.2 1511.6L1067.2 1526.8L1049.2 1526.8Z" fill="#0000FF"/>
<path d="M766.7 1797.9L775.7 1813.3L757.7 1813.3Z" fill="#FF0000"/>
<path d="M828.1 1797.9L837.1 1813.3L819.1 1813.3Z" fill="#FF0000"/>
<path d="M904.8 1797.9L913.8 1813.3L895.8 1813.3Z" fill="#FF0000"/>
<path d="M981.5 1797.9L990.5 1813.3L972.5 1813.3Z" fill="#FF0000"/>
<path d="M1058.2 1797.9L1067.2 1813.3L1049.2 1813.3Z" fill="#FF0000"/>
<path d="M1211.6 1519.1L1220.4 1527.9L1211.6 1536.7L1202.8 1527.9Z" fill="#FF0000"/>
<path d="M1134.9 1510.0L1143.7 1518.8L1134.9 1527.6L1126.1 1518.8Z" fill="#0000FF"/>
<path d="M1211.6 1510.0L1220.4 1518.8L1211.6 1527.6L1202.8 1518.8Z" fill="#0000FF"/>
<path d="M1134.9 1686.7L1143.7 1695.5L1134.9 1704.3L1126.1 1695.5Z" fill="#FF0000"/>
<text transform="translate(990.35,1899.00)" font-size="30" text-anchor="middle" fill="#000"><tspan font-style="italic">λ</tspan><tspan>×10</tspan><tspan font-size="19.2" dy="-11.50">-3</tspan><tspan dy="11.50"> (-)</tspan></text>
<text transform="translate(684.50,1669.75) rotate(-90) scale(1,1.04)" font-size="30" text-anchor="middle" fill="#000"><tspan font-style="italic">S</tspan><tspan font-size="19.2" dy="6.00">br</tspan><tspan dy="-6.00"> (-)</tspan></text>
<text transform="translate(1279.80,1669.75) rotate(90) scale(1,1.04)" font-size="30" text-anchor="middle" fill="#000"><tspan font-style="italic">L</tspan><tspan font-size="19.2" dy="6.00">inter</tspan><tspan dy="-6.00">/</tspan><tspan font-style="italic">L</tspan><tspan font-size="19.2" dy="6.00">max</tspan><tspan dy="-6.00"> (-)</tspan></text>
<rect x="934.0" y="1538.2" width="108.0" height="35.5" fill="#fff" stroke="#333" stroke-width="1.2"/>
<text transform="translate(942.00,1565.90) scale(1,1.04)" font-size="30" text-anchor="start" fill="#000"><tspan font-style="italic">θ</tspan><tspan> = 90°</tspan></text>
<line x1="1045.2" y1="1476.9" x2="1045.2" y2="1486.5" stroke="#FF0000" stroke-width="1.5"/>
<path d="M1045.2 1499.2L1040.3 1482.9L1045.2 1486.5L1050.1 1482.9Z" fill="#FF0000"/>
<text transform="translate(1009.00,1463.00) scale(1,1.04)" font-size="30" text-anchor="start" fill="#FF0000"><tspan font-style="italic">λ</tspan><tspan font-size="19.2" dy="6.00">KS</tspan><tspan font-size="19.2" dy="-1.30">_</tspan><tspan font-size="19.2" dy="1.30">SF</tspan></text>
<text transform="translate(673.50,1481.80) scale(1,1.01)" font-size="43" text-anchor="start" fill="#000" font-weight="bold"><tspan>G</tspan></text>
<rect x="118.4" y="1540" width="382.2" height="143.2" fill="#fff" stroke="#000" stroke-width="1.8"/>
<text transform="translate(281.80,1578.30) scale(1,1.04)" font-size="30" text-anchor="middle" fill="#000"><tspan>CP</tspan></text>
<text transform="translate(343.40,1578.30) scale(1,1.04)" font-size="30" text-anchor="middle" fill="#000"><tspan>TS</tspan></text>
<text transform="translate(404.00,1578.30) scale(1,1.04)" font-size="30" text-anchor="middle" fill="#000"><tspan>KS</tspan></text>
<text transform="translate(465.50,1578.30) scale(1,1.04)" font-size="30" text-anchor="middle" fill="#000"><tspan>SF</tspan></text>
<circle cx="281.9" cy="1611.3" r="6.80" fill="#FF0000"/>
<rect x="336.9" y="1604.9" width="12.8" height="12.8" fill="#FF0000"/>
<path d="M404.3 1602.5L413.1 1611.3L404.3 1620.1L395.5 1611.3Z" fill="#FF0000"/>
<path d="M465.8 1603.2L474.8 1618.6L456.8 1618.6Z" fill="#FF0000"/>
<circle cx="281.9" cy="1654.2" r="6.80" fill="#0000FF"/>
<rect x="336.9" y="1647.8" width="12.8" height="12.8" fill="#0000FF"/>
<path d="M404.3 1645.4L413.1 1654.2L404.3 1663.0L395.5 1654.2Z" fill="#0000FF"/>
<path d="M465.8 1646.1L474.8 1661.5L456.8 1661.5Z" fill="#0000FF"/>
<text transform="translate(135.50,1618.30) scale(1,1.04)" font-size="30" text-anchor="start" fill="#000"><tspan font-style="italic">S</tspan><tspan font-size="19.2" dy="6.00">br</tspan></text>
<text transform="translate(136.00,1661.90) scale(1,1.04)" font-size="30" text-anchor="start" fill="#000"><tspan font-style="italic">L</tspan><tspan font-size="19.2" dy="6.00">inter</tspan><tspan dy="-6.00">/</tspan><tspan font-style="italic">L</tspan><tspan font-size="19.2" dy="6.00">max</tspan></text>
</svg></body></html>
